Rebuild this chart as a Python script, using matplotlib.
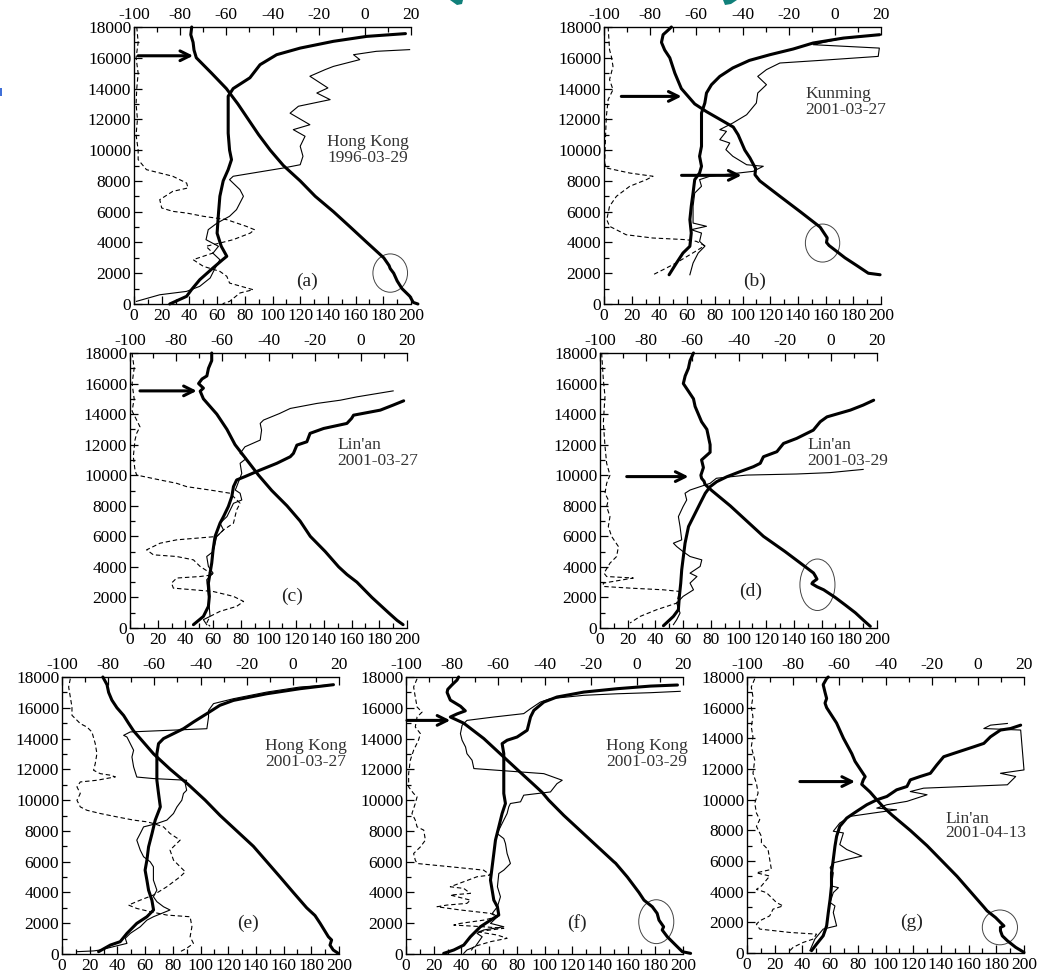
import matplotlib
matplotlib.use("Agg")
import matplotlib.pyplot as plt
from matplotlib.patches import Ellipse, Polygon, Rectangle
from matplotlib.ticker import MultipleLocator

plt.rcParams['font.family'] = ['Liberation Serif', 'DejaVu Serif']
plt.rcParams['axes.unicode_minus'] = False

W, H = 1039, 977

# -------------------------
# Données : (valeur, altitude en m)
# temp = température (axe du haut, °C), o3 = ozone (axe du bas, trait épais),
# fin = second profil (trait fin), hr = humidité relative (tirets)
# -------------------------
temp_a = [(23, 0), (21, 100), (19.5, 500), (16.1, 1000), (14, 1500), (12.5, 2000), (11, 2300), (10.5, 2500),
          (8.2, 3000), (0.9, 4000), (-6.3, 5000), (-13.6, 6000), (-21.5, 7000), (-28, 8000), (-35.3, 9000),
          (-41, 10000), (-46, 11000), (-50.5, 12000), (-55, 13000), (-60, 14000), (-66.4, 15000), (-73, 16000),
          (-74, 16500), (-74.4, 17000), (-75.4, 17500), (-75, 18000)]
o3_a = [(25.8, 0), (38, 500), (41.5, 930), (47.5, 1580), (57, 2340), (64, 2880), (67, 3100), (63, 3750),
        (60, 4600), (61, 5900), (62, 7000), (64.4, 8000), (68, 8730), (70.4, 9380), (69, 10000), (68, 11100),
        (68, 12850), (68, 13500), (71.6, 14000), (83.7, 14700), (91, 15550), (103, 16200), (120, 16630),
        (144, 17070), (168, 17390), (196, 17570)]
fin_a = [(1.7, 170), (18.6, 600), (38, 820), (47.5, 1150), (55, 1690), (58, 2230), (62, 2880), (57, 3300),
         (61, 3750), (52, 4180), (53.6, 4830), (60, 5260), (69, 5700), (74, 6130), (79, 7000), (76.5, 7430),
         (69, 8080), (71.6, 8300), (108, 8840), (120, 9050), (122, 9600), (120, 10250), (123.5, 10900),
         (115, 11330), (127, 11650), (112.7, 12400), (118.7, 12850), (141.6, 13280), (132, 13710), (140, 14040),
         (127, 14800), (138, 15230), (144, 15440), (163, 15880), (158.5, 16200), (175, 16420), (199, 16530)]
hr_a = [(2, 18000), (3, 17000), (1.5, 16000), (3, 15000), (2, 14000), (1.5, 13000), (2.5, 12000), (1.5, 11000),
        (3, 10000), (3, 9380), (9, 8730), (28, 8300), (38, 7860), (39, 7540), (28, 7320), (18.6, 6780),
        (20, 6240), (28, 6020), (38, 5910), (50, 5700), (67, 5480), (81, 5050), (87, 4830), (84, 4610),
        (71.6, 4180), (62, 3960), (52, 3750), (57, 3310), (42.7, 2880), (50, 2450), (62, 2120), (67, 1800),
        (69, 1360), (86, 930), (76.5, 715), (69, 170), (64, 20)]

temp_b = [(19.6, 1900), (14.5, 2000), (9.5, 2500), (4.4, 3000), (0.1, 3500), (-2.5, 3800), (-3.6, 4000),
          (-3.3, 4300), (-6.4, 5000), (-15, 6000), (-23.8, 7000), (-32.5, 8000), (-34.6, 8400), (-34.3, 8800),
          (-36.8, 9500), (-39, 10000), (-41.9, 11000), (-44, 11500), (-49.8, 12000), (-55.6, 12500),
          (-60.7, 13000), (-66.5, 14000), (-69.3, 15000), (-71.5, 16000), (-73.7, 16500), (-75.1, 17000),
          (-74.4, 17500), (-72.2, 17800), (-70.8, 18000)]
o3_b = [(47, 1900), (52.3, 2660), (57, 3310), (62, 3750), (63, 4610), (62, 5480), (63, 6350), (64.3, 7210),
        (65.5, 8080), (69, 8510), (70.4, 8950), (69, 9600), (70.4, 10250), (70.4, 11110), (70.4, 11760),
        (70.4, 12410), (72.8, 13060), (74, 13710), (77.6, 14250), (83.6, 14790), (93, 15340), (105, 15830),
        (119.8, 16200), (136.6, 16570), (151, 16960), (172.8, 17280), (199, 17500)]
fin_b = [(62, 1900), (64.3, 2660), (68, 3310), (72.8, 3750), (69, 4070), (70.4, 4610), (63, 4830), (74, 5050),
         (64.3, 5260), (64.3, 6350), (65.5, 7210), (70.4, 7650), (69, 8080), (76.4, 8300), (107.7, 8620),
         (115, 8950), (103, 9050), (93, 9600), (88, 10030), (90.8, 10460), (83.6, 10680), (88.4, 11220),
         (83.6, 11330), (93, 11760), (103, 12300), (110, 13060), (111, 13710), (117.3, 14250), (111, 14790),
         (117.3, 15230), (127, 15660), (156, 15830), (198, 16090), (198.8, 16630), (151, 16850), (170, 17220),
         (199, 17500)]
hr_b = [(3, 18000), (4, 16530), (5.3, 16090), (6.5, 15440), (4, 14580), (6.5, 13930), (3, 13280), (1.7, 12190),
        (1.2, 11110), (0.5, 9160), (1.7, 8840), (18.6, 8510), (35.4, 8300), (30.6, 8080), (18.6, 7650),
        (9, 7000), (4, 6350), (2, 5480), (4, 5050), (16, 4500), (35, 4290), (59.5, 4180), (66.7, 4070),
        (72.8, 3790), (64, 3310), (52, 2660), (42.7, 2230), (35.4, 1900)]

temp_c = [(18.3, 218), (15.7, 500), (12, 1000), (4.8, 2000), (-1.7, 3000), (-6, 3500), (-9.6, 4000),
          (-15.4, 5000), (-21.9, 6000), (-26.3, 7000), (-32, 8000), (-38.6, 9000), (-44.3, 10000),
          (-49.4, 11000), (-54.5, 12000), (-58, 13000), (-62.4, 14000), (-68.2, 15000), (-69.6, 15500),
          (-68.2, 15700), (-70.3, 16000), (-68.8, 16300), (-66.7, 16500), (-66, 17000), (-64.6, 17500),
          (-64.6, 18000)]
o3_c = [(45.8, 218), (53, 760), (56.6, 1415), (57.3, 2070), (56.6, 2940), (57.8, 3590), (59, 4245), (60, 5115),
        (61.4, 5990), (65, 6860), (67.5, 7290), (71, 7950), (73.5, 8600), (74.7, 9250), (77, 9690), (83, 9910),
        (94, 10340), (106, 10780), (115.7, 11210), (118, 11430), (120.5, 11970), (127.7, 12190), (130, 12740),
        (139.8, 13060), (156.6, 13390), (160, 13720), (161.4, 13930), (180.7, 14260), (190, 14590),
        (197.6, 14870)]
fin_c = [(55.4, 218), (53, 545), (57.8, 760), (56.6, 2070), (55.4, 3160), (60, 3590), (56.6, 4030), (55.4, 4680),
         (60, 5000), (62.6, 5990), (67.5, 6420), (65, 6860), (70, 7290), (74.7, 8160), (80.7, 8380), (79.5, 8820),
         (76, 9030), (77, 9250), (80.7, 10120), (79.5, 10780), (84, 11100), (79.5, 11430), (83, 11860),
         (94, 12300), (95, 12950), (94, 13390), (96.4, 13610), (108, 14040), (115.7, 14370), (135, 14700),
         (151.8, 14910), (163.9, 15130), (190, 15520)]
hr_c = [(1.5, 18000), (3, 17000), (1.5, 16000), (3, 15000), (1.5, 14200), (4.8, 13610), (7.2, 13170),
        (4.8, 12740), (3.6, 12300), (2.4, 11210), (3.6, 10340), (4.8, 10010), (21.7, 9690), (33.7, 9470),
        (41, 9250), (57.8, 9030), (72.3, 8820), (74.7, 8600), (79.5, 8160), (77, 7730), (74.7, 6860),
        (67.5, 6420), (62.6, 5990), (33.7, 5770), (21.7, 5550), (12, 5115), (16.9, 4790), (33.7, 4680),
        (45.8, 4460), (50.6, 4030), (60, 3480), (50.6, 3370), (33.7, 3270), (30, 2940), (31.3, 2610),
        (45.8, 2500), (60, 2390), (74.7, 2070), (82, 1740), (77, 1415), (65, 1090), (57.8, 760), (55.4, 327),
        (57.8, 110)]

temp_d = [(17.1, 109), (14.2, 500), (10.6, 1000), (6.3, 1500), (1.9, 2000), (-3.1, 2500), (-6, 2700),
          (-8.2, 2900), (-7.8, 3000), (-6, 3200), (-6.7, 3400), (-7.5, 3600), (-11, 4000), (-19.8, 5000),
          (-29.2, 6000), (-36.4, 7000), (-43.6, 8000), (-51.6, 9000), (-54.5, 9400), (-54.9, 9600),
          (-56, 9800), (-56.3, 10000), (-55.2, 10500), (-56, 11000), (-52.3, 11500), (-52.3, 12000),
          (-53, 12500), (-53.7, 13000), (-56, 13500), (-57.4, 14000), (-58.8, 14500), (-59.5, 15000),
          (-61.7, 15500), (-63.9, 16000), (-63.1, 16500), (-61.7, 17000), (-61, 17500), (-59.5, 18000)]
o3_d = [(45.8, 150), (53, 760), (56.6, 1200), (57.3, 2070), (58.3, 2940), (59, 3810), (60.2, 4680), (61.4, 5550),
        (63.9, 6640), (67.5, 7290), (72.3, 8160), (76, 8820), (79.5, 9250), (84.3, 9580), (91.6, 9900),
        (101, 10230), (110.8, 10560), (115.7, 10780), (118, 11210), (127.7, 11540), (132.5, 12080),
        (142, 12410), (154, 12950), (159, 13500), (163.9, 13820), (180.7, 14260), (190, 14590), (197.6, 14910)]
fin_d = [(53, 218), (55.4, 545), (57.8, 980), (55.4, 1630), (60, 2070), (67.5, 2500), (65, 2940), (70, 3370),
         (65, 3590), (72.3, 4030), (73.5, 4460), (65, 4680), (60, 5000), (55.4, 5330), (53, 5550), (59, 5770),
         (57.8, 6640), (56.6, 7290), (60, 7950), (62.6, 8380), (61.4, 8820), (65, 9030), (79.5, 9470),
         (84, 9800), (106, 10010), (142, 10080), (166, 10170), (180.7, 10300), (190, 10380)]
hr_d = [(1.2, 18000), (2.4, 16260), (3.6, 15170), (2.4, 13440), (3.6, 11910), (4.8, 10780), (7.2, 10010),
        (4.8, 9470), (3.6, 8820), (6, 8380), (4.8, 7950), (7.2, 7290), (6, 6640), (8.4, 5990), (13.3, 5330),
        (12, 4680), (7.2, 4245), (2.9, 3590), (4.8, 3370), (24, 3270), (16.9, 3160), (2.4, 2940), (2.4, 2720),
        (21.7, 2610), (45.8, 2500), (57.8, 2390), (56.6, 2070), (55.4, 1630), (41, 1200), (29, 760),
        (21.7, 330)]

temp_e = [(19.7, 40), (17.5, 260), (16.1, 580), (16.8, 910), (15.4, 1120), (11.8, 2000), (9.6, 2500), (6, 3000),
          (0.2, 4000), (-5.5, 5000), (-11.3, 6000), (-17.1, 7000), (-24.3, 8000), (-31.5, 9000), (-38, 10000),
          (-45.2, 11000), (-53.1, 12000), (-60.3, 13000), (-66.1, 14000), (-69, 14500), (-71.2, 15000),
          (-73.3, 15500), (-76.2, 16000), (-78.4, 16500), (-79.8, 17000), (-80.5, 17500), (-82.3, 18000)]
o3_e = [(26.4, 150), (34.9, 580), (42, 800), (46.9, 1340), (54, 1990), (61.3, 2420), (66.1, 2860), (64.9, 3500),
        (62.5, 4150), (61.3, 4800), (60, 5450), (61.3, 6100), (62.5, 6960), (65, 7830), (67.3, 8700),
        (71, 9560), (69.7, 10430), (68.5, 11290), (68.5, 12160), (68.5, 13020), (69.7, 13670), (73.3, 14000),
        (80.5, 14320), (87.7, 14640), (95, 15080), (104.6, 15620), (114, 16160), (123.8, 16480),
        (147.8, 16910), (171.9, 17240), (196, 17500)]
fin_e = [(10.8, 150), (22.8, 200), (27.6, 260), (37.3, 480), (46.9, 690), (45.7, 1020), (49.3, 1340),
         (56.5, 1770), (61.3, 2200), (66, 2420), (78, 2860), (73.3, 3070), (68.5, 3400), (66, 3720),
         (68.5, 4150), (66, 4800), (66, 5670), (63.7, 5990), (58.9, 6320), (56.5, 6750), (54, 7400),
         (56.5, 7830), (58.9, 8260), (68.5, 8480), (75.7, 8700), (80.5, 9130), (83, 9560), (86.5, 9990),
         (87.7, 10430), (90, 10640), (89, 11070), (90, 11290), (66, 11400), (54, 11500), (51.7, 12160),
         (50.5, 12800), (51.7, 13240), (49.3, 13670), (46.9, 14100), (44.5, 14210), (49.3, 14430),
         (104.6, 14640), (105.8, 15400), (105.8, 15830), (109.4, 16270), (123.8, 16590), (147.8, 17020),
         (171.9, 17350), (196, 17500)]
hr_e = [(6, 17890), (4.8, 17350), (6, 16700), (7.2, 16050), (7.2, 15510), (10.8, 15190), (13.2, 14970),
        (18, 14750), (21.6, 14430), (24, 13670), (25.2, 13020), (24, 12370), (22.8, 11940), (27.6, 11720),
        (34.9, 11620), (38.5, 11510), (25.2, 11290), (13.2, 11180), (10.8, 10860), (13.2, 10430),
        (10.8, 9990), (13.2, 9560), (18, 9340), (27.6, 9130), (39.7, 8910), (51.7, 8700), (61.3, 8590),
        (66, 8480), (73.3, 8260), (78, 7830), (85.3, 7400), (78, 6750), (80.5, 6100), (85.3, 5670),
        (89, 5340), (85.3, 5020), (75.7, 4370), (66, 3830), (56.5, 3500), (48, 3180), (54, 2960),
        (63.7, 2750), (75.7, 2530), (92.5, 2420), (93.8, 1770), (92.5, 1120), (94.9, 690), (90, 370),
        (85.3, 150)]

temp_f = [(23.3, 40), (19.7, 150), (16.8, 580), (13.2, 1120), (11, 1560), (11.6, 1770), (9.6, 2200),
          (8.8, 2640), (6.7, 3070), (3.1, 3500), (0.9, 4000), (-4.1, 5000), (-9.2, 5900), (-10, 6000),
          (-17.2, 7000), (-24.4, 8000), (-31.6, 9000), (-38.2, 10000), (-41, 10500), (-44.6, 11000),
          (-51.9, 12000), (-59.1, 13000), (-66.3, 14000), (-75, 15000), (-80.8, 15400), (-77.9, 15600),
          (-74.3, 15800), (-76.4, 16100), (-80.8, 16500), (-82.2, 17000), (-81.9, 17200), (-80, 17500),
          (-77.9, 17800), (-77.2, 18000)]
o3_f = [(27.2, 40), (34.5, 260), (41.7, 580), (46.5, 1120), (53.7, 1770), (61, 2200), (67, 2530), (66, 3070),
        (63.4, 3500), (62.2, 4150), (61, 4800), (62.2, 5670), (63.4, 6530), (64.6, 7400), (67, 8260),
        (69.4, 9130), (71.8, 9780), (70.6, 10430), (70.6, 11290), (70.6, 12160), (70.6, 13020), (69.4, 13670),
        (73, 13890), (80.2, 14100), (87.5, 14540), (89.9, 15400), (92.3, 15830), (99.5, 16370), (109, 16700),
        (128.4, 17020), (152.5, 17240), (176.6, 17410), (196, 17480)]
fin_f = [(41.7, 40), (44, 260), (50, 480), (55, 1120), (51.3, 1340), (56, 1560), (70.6, 1770), (61, 1990),
         (66, 2420), (62.3, 2640), (66, 3070), (68.2, 3720), (66, 4370), (67, 5230), (70.6, 5450), (75.4, 5880),
         (73, 6530), (71.8, 7180), (70.6, 7500), (65.8, 7830), (70.6, 8700), (73, 9130), (74.2, 9560),
         (75.4, 9780), (82.7, 9890), (85, 10320), (104.3, 10530), (109, 11070), (112.8, 11290), (99.5, 11720),
         (49, 12050), (47.7, 12590), (44, 13020), (43, 13450), (40.5, 13890), (39.3, 14320), (40.5, 14860),
         (44, 15180), (63.4, 15400), (85, 15620), (89.9, 15940), (97, 16370), (104.3, 16590), (128.4, 16810),
         (152.5, 16910), (176.6, 16980), (198, 17070)]
hr_f = [(8, 17890), (5.5, 17350), (6.7, 16700), (8, 16050), (11.6, 15720), (8, 15400), (6.7, 14750),
        (10.4, 14320), (9, 13890), (5.5, 13240), (3.1, 12590), (1.9, 11720), (1.9, 10860), (5.5, 10430),
        (8, 10210), (6.7, 9780), (4.3, 9130), (6.7, 8700), (8, 8260), (12.8, 8050), (14, 7400), (10.4, 6960),
        (5.5, 6530), (6.7, 6100), (8, 5880), (32, 5670), (56, 5450), (61, 5130), (51.3, 5020), (32, 4370),
        (41.7, 4260), (46.5, 3940), (32, 3830), (46.5, 3500), (44, 3290), (29.6, 3180), (22.4, 3070),
        (39.3, 2860), (61, 2640), (66, 2420), (56, 2200), (39.3, 1990), (34.5, 1880), (56, 1770), (70.6, 1670),
        (51.3, 1450), (66, 1230), (73, 1020), (61, 800), (49, 480), (46.5, 150)]

temp_g = [(20, 40), (16.4, 370), (12.8, 800), (10.6, 1120), (9.8, 1450), (9.8, 1670), (11.3, 1770), (9.8, 1990),
          (7.7, 2310), (4, 2750), (2.6, 3000), (-3.2, 4000), (-9, 5000), (-15.5, 6000), (-22, 7000),
          (-29.3, 8000), (-37.2, 9000), (-40.8, 9500), (-43.8, 10000), (-46.7, 10500), (-50.3, 11000),
          (-49.6, 11300), (-48.8, 11500), (-51, 12000), (-53.2, 12500), (-54.6, 13000), (-58.2, 14000),
          (-61.2, 15000), (-65.5, 16000), (-66.2, 16300), (-65.5, 16600), (-66.2, 17000), (-67, 17500),
          (-65.5, 17900), (-64.8, 18000)]
o3_g = [(46.6, 150), (50.2, 580), (55, 1120), (57.5, 1770), (58.7, 2640), (60, 3500), (61, 4370), (61, 5230),
        (62.3, 6100), (63.5, 6960), (64.7, 7610), (67, 8260), (72, 8800), (79.2, 9240), (86.5, 9670),
        (93.7, 9990), (101, 10210), (108, 10640), (115.5, 10860), (117.9, 11290), (125, 11510), (132.4, 11720),
        (137, 12260), (142, 12800), (149.3, 13020), (163.8, 13450), (171, 13670), (175.8, 14100), (183, 14540),
        (190.3, 14640), (197.6, 14860)]
fin_g = [(45.4, 150), (49, 910), (55, 1560), (64.7, 1770), (62.3, 2640), (63.5, 3070), (60, 3290), (62.3, 3940),
         (66, 4260), (61, 4370), (62.3, 5230), (60, 5560), (62.3, 5880), (72, 6100), (82.9, 6320), (72, 6750),
         (67, 7070), (69.6, 7830), (62.3, 7940), (67, 8480), (74.4, 8910), (91.3, 9130), (108, 9340),
         (93.7, 9450), (101, 9670), (115.5, 9890), (130, 10320), (117.9, 10530), (127.5, 10750), (188, 10970),
         (194, 11510), (183, 11720), (200, 11940), (197.6, 14540), (171, 14640), (175.8, 14860), (188, 14970)]
hr_g = [(5.6, 17890), (3.1, 17350), (4.3, 16700), (3.1, 16050), (4.3, 15400), (3.1, 14750), (4.3, 14100),
        (3.1, 13450), (5.6, 12590), (4.3, 11720), (6.8, 11070), (8, 10430), (5.6, 9780), (6.8, 9130),
        (9.2, 8700), (6.8, 8260), (10.4, 7610), (10.4, 7180), (15.2, 6750), (16.4, 6100), (17.6, 5450),
        (6.8, 5230), (16.4, 5020), (10.4, 4370), (6.8, 4150), (14, 3940), (21.3, 3290), (26, 3070),
        (18.8, 2860), (16.4, 2420), (9.2, 2100), (6.8, 1880), (9.2, 1560), (31, 1340), (50.2, 1230),
        (47.8, 910), (40.6, 690), (33.3, 370), (31, 150)]

# Flèches (x début, x fin, altitude) et cercles (x, altitude, largeur, hauteur)
fleches = {'a': [(3, 42.7, 16130)], 'b': [(12.5, 56, 13490), (56, 99.3, 8360)], 'c': [(7.2, 48.2, 15520)],
           'd': [(19.3, 63.9, 9910)], 'e': [], 'f': [(0.7, 32, 15180)], 'g': [(38.2, 78, 11180)]}
cercles = {'a': (185, 2010, 25, 2490), 'b': (157.8, 3960, 24.8, 2470), 'c': None, 'd': (157, 2830, 25.3, 3370),
           'e': None, 'f': (180.7, 2100, 25.3, 2850), 'g': (182.6, 1670, 25.4, 2270)}
stations = {'a': "Hong Kong\n1996-03-29", 'b': "Kunming\n2001-03-27", 'c': "Lin'an\n2001-03-27",
            'd': "Lin'an\n2001-03-29", 'e': "Hong Kong\n2001-03-27", 'f': "Hong Kong\n2001-03-29",
            'g': "Lin'an\n2001-04-13"}

# -------------------------
# Mise en page : (gauche px, haut px, hauteur px), position du nom, position de la lettre
# -------------------------
panneaux = [
    ('a', (134, 27, 277), (169, 9985, 'center', 1.0), (125, 1470), temp_a, o3_a, fin_a, hr_a),
    ('b', (604, 27, 277), (145.5, 13125, 'left', 1.0), (109, 1470), temp_b, o3_b, fin_b, hr_b),
    ('c', (130, 353, 275), (150, 11450, 'left', 1.0), (117, 2070), temp_c, o3_c, fin_c, hr_c),
    ('d', (600, 353, 275), (150, 11450, 'left', 1.0), (108.4, 2400), temp_d, o3_d, fin_d, hr_d),
    ('e', (62, 677, 277), (176, 13020, 'center', 1.0), (134.6, 1990), temp_e, o3_e, fin_e, hr_e),
    ('f', (406, 677, 277), (174, 13020, 'center', 1.0), (123.6, 2030), temp_f, o3_f, fin_f, hr_f),
    ('g', (747, 677, 276), (143.2, 8265, 'left', 0.8), (119, 1990), temp_g, o3_g, fin_g, hr_g),
]


def xs_ys(paires):
    return [p[0] for p in paires], [p[1] for p in paires]


def regler_ticks(axe, axis):
    axe.tick_params(axis=axis, which='both', direction='in', labelsize=12.5, width=0.9)
    axe.tick_params(axis=axis, which='major', length=6)
    axe.tick_params(axis=axis, which='minor', length=3.5)


fig = plt.figure(figsize=(W / 100, H / 100), dpi=100)

for nom, (gx, hy, hh), (tx, ty, ta, tls), (lx, ly), temp, o3, fin, hr in panneaux:
    ax = fig.add_axes([gx / W, 1 - (hy + hh) / H, 277 / W, hh / H])
    ax.set_xlim(0, 200)
    ax.set_ylim(0, 18000)
    ax.xaxis.set_major_locator(MultipleLocator(20))
    ax.xaxis.set_minor_locator(MultipleLocator(10))
    ax.yaxis.set_major_locator(MultipleLocator(2000))
    ax.yaxis.set_minor_locator(MultipleLocator(1000))
    regler_ticks(ax, 'x')
    regler_ticks(ax, 'y')
    ax.tick_params(axis='y', pad=2)
    ax.tick_params(axis='x', pad=3)
    ax.spines['right'].set_visible(False)
    for s in ('left', 'bottom', 'top'):
        ax.spines[s].set_linewidth(0.9)

    x, y = xs_ys(hr)
    ax.plot(x, y, color='k', lw=0.8, ls=(0, (4, 2.5)), clip_on=False)
    x, y = xs_ys(fin)
    ax.plot(x, y, color='k', lw=0.8, clip_on=False)
    x, y = xs_ys(o3)
    ax.plot(x, y, color='k', lw=2.2, clip_on=False, solid_capstyle='round')

    for x0, x1, alt in fleches[nom]:
        ax.annotate('', xy=(x1, alt), xytext=(x0, alt),
                    arrowprops=dict(arrowstyle='->,head_length=0.7,head_width=0.35', lw=2.2, color='k',
                                    shrinkA=0, shrinkB=0))
    if cercles[nom] is not None:
        cx, cy, cw, ch = cercles[nom]
        ax.add_patch(Ellipse((cx, cy), cw, ch, fill=False, lw=0.7, edgecolor='#444444', clip_on=False))

    ax.text(tx, ty, stations[nom], ha=ta, va='center', multialignment=ta, fontsize=12.5,
            color='#333333', linespacing=tls)
    ax.text(lx, ly, '(' + nom + ')', ha='center', va='center', fontsize=14, color='#222222')

    # axe du haut : température
    ax2 = ax.twiny()
    ax2.set_xlim(-100, 20)
    ax2.xaxis.set_major_locator(MultipleLocator(20))
    ax2.xaxis.set_minor_locator(MultipleLocator(10))
    regler_ticks(ax2, 'x')
    ax2.tick_params(axis='x', pad=3)
    ax2.spines['right'].set_visible(False)
    x, y = xs_ys(temp)
    ax2.plot(x, y, color='k', lw=2.2, clip_on=False, solid_capstyle='round')

# restes du titre de la diapositive, coupés en haut (petits morceaux colorés)
def px(pts):
    return [(u / W, 1 - v / H) for u, v in pts]


fig.add_artist(Polygon(px([(450, 0), (463, 0), (462, 4), (457, 5)]), closed=True,
                       transform=fig.transFigure, color='#10807a', lw=0))
fig.add_artist(Polygon(px([(723, 0), (737, 0), (731, 4), (725, 5)]), closed=True,
                       transform=fig.transFigure, color='#10807a', lw=0))
fig.add_artist(Rectangle((0, 1 - 96 / H), 2 / W, 8 / H, transform=fig.transFigure,
                         color='#4070d8', lw=0))

fig.savefig('out.png', dpi=100)
